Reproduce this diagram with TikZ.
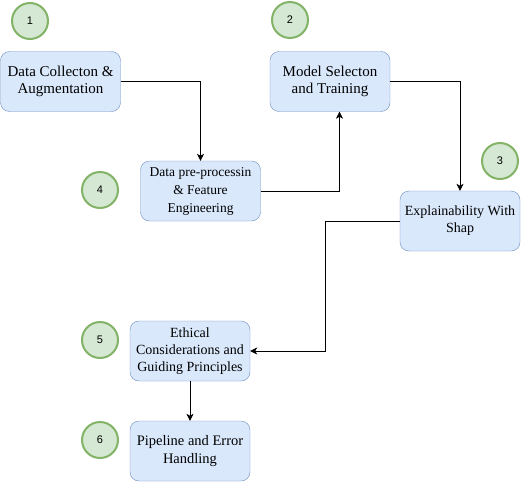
\documentclass[tikz,border=0pt]{standalone}
\usepackage{fontspec}
\setmainfont{Liberation Serif}
\newfontfamily\numfont{Liberation Sans}
\usetikzlibrary{arrows.meta}
\definecolor{boxfill}{HTML}{DAE8FC}
\definecolor{boxline}{HTML}{6C8EBF}
\definecolor{stepfill}{HTML}{D5E8D4}
\definecolor{stepline}{HTML}{82B366}

\begin{document}
\begin{tikzpicture}[x=1pt,y=-1pt]
  \tikzset{stage/.style = {shape=rectangle,draw=boxline,fill=boxfill,rounded corners=9pt,minimum width=120pt,minimum height=60pt,inner sep=1pt,align=center,font=\fontsize{14}{17}\selectfont}}
  \tikzset{bigstage/.style = {stage,font=\fontsize{15}{17}\selectfont}}
  \tikzset{stagenum/.style = {shape=circle,draw=stepline,fill=stepfill,line width=2pt,minimum size=36pt,inner sep=0pt,font=\numfont\fontsize{11}{13}\selectfont}}
  \tikzset{edge/.style = {-{Stealth[length=7pt,width=7pt,inset=2pt]},semithick}}

  \useasboundingbox (0,0) rectangle (522,482);

	\node[bigstage] (DC) at (60.5,81.5) {Data Collecton \&\\Augmentation};
	\node[stage,font=\fontsize{13.5}{18}\selectfont] (DP) at (200.5,191) {Data pre-processin\\\& Feature\\Engineering};
	\node[bigstage] (MS) at (330,81.5) {Model Selecton\\and Training};
	\node[stage] (XS) at (460,221) {Explainability With\\Shap};
	\node[stage] (EC) at (190,351) {Ethical\\Considerations and\\Guiding Principles};
	\node[stage,font=\fontsize{14.5}{18}\selectfont] (PE) at (190,451) {Pipeline and Error\\Handling};

	\node[stagenum] (n1) at (30,21) {1};
	\node[stagenum] (n2) at (290,20) {2};
	\node[stagenum] (n3) at (500,161) {3};
	\node[stagenum] (n4) at (100,190) {4};
	\node[stagenum] (n5) at (100,340) {5};
	\node[stagenum] (n6) at (100,440) {6};

	\coordinate (up) at (339.5,0);
	\coordinate (bend) at (325.5,0);

    \draw[edge] (DC) -| (DP);
    \draw[edge] (DP.east) -| (up |- MS.south);
    \draw[edge] (MS) -| (XS);
    \draw[edge] (XS.west) -| (bend |- EC.east) -- (EC.east);
    \draw[edge] (EC) -- (PE);

\end{tikzpicture}
\end{document}
